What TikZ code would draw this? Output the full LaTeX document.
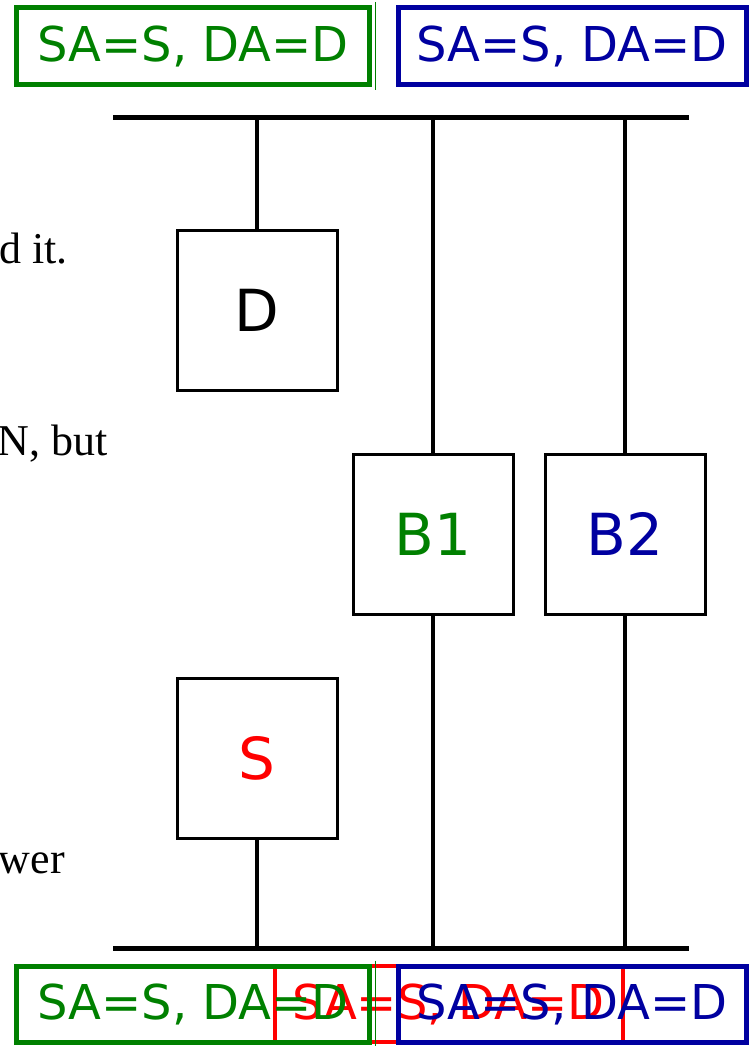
\documentclass[tikz,border=0pt]{standalone}
\usepackage{fontspec}
\setmainfont{Liberation Serif}
\newfontfamily\verdana{DejaVu Sans}
\definecolor{bgreen}{RGB}{0,128,0}
\definecolor{bblue}{RGB}{0,0,160}

\tikzset{
	bridge/.style={draw, line width=3pt, minimum size=160pt, inner sep=0pt, font=\verdana\fontsize{58}{62}\selectfont},
	hdr/.style={draw=#1, text=#1, line width=5pt, minimum height=77pt, inner sep=0pt, font=\verdana\fontsize{48}{54}\selectfont},
	cut/.style={anchor=base east, inner sep=0pt, font=\fontsize{44}{50}\selectfont},
	wire/.style={line width=4pt}
}

\begin{document}
\begin{tikzpicture}[x=1pt,y=-1pt]
	\useasboundingbox (0,0) rectangle (748,1046);

	% the two LAN segments
	\coordinate (tl) at (113,118);
	\coordinate (tr) at (689,118);
	\coordinate (bl) at (113,948);
	\coordinate (br) at (689,948);
	\draw[line width=5pt] (tl) -- (tr);
	\draw[line width=5pt] (bl) -- (br);

	% stations and bridges
	\node[bridge] (D) at (257,310) {D};
	\node[bridge, text=bgreen] (B1) at (433,534) {B1};
	\node[bridge, text=bblue] (B2) at (625,534) {B2};
	\node[bridge, text=red] (S) at (257,758) {S};

	\draw[wire] (D) -- (D |- tl);
	\draw[wire] (S) -- (S |- bl);
	\draw[wire] (B1) -- (B1 |- tl);
	\draw[wire] (B1) -- (B1 |- bl);
	\draw[wire] (B2) -- (B2 |- tl);
	\draw[wire] (B2) -- (B2 |- bl);

	% frames on the upper LAN
	\node[hdr=bgreen, minimum width=353pt] (gtop) at (193,46) {SA=S, DA=D};
	\draw[bgreen, line width=1pt] ([xshift=3.5pt,yshift=3pt]gtop.north east) -- ([xshift=3.5pt,yshift=-3pt]gtop.south east);
	\node[hdr=bblue, minimum width=348pt] (btop) at (572,46) {SA=S, DA=D};

	% frames on the lower LAN
	\node[hdr=red, line width=4pt, minimum width=348pt, minimum height=76pt] (rbot) at (448.5,1004) {SA=S, DA=D};
	\node[hdr=bgreen, minimum width=353pt, minimum height=76pt] (gbot) at (193,1004) {SA=S, DA=D};
	\draw[bgreen, line width=1pt] ([xshift=3.5pt,yshift=3pt]gbot.north east) -- ([xshift=3.5pt,yshift=-3pt]gbot.south east);
	\node[hdr=bblue, minimum width=348pt, minimum height=76pt] (bbot) at (572,1004) {SA=S, DA=D};

	% text from the slide beside it
	\node[cut] (t1) at (68,263) {d it.};
	\node[cut] (t2) at (108,455) {N, but};
	\node[cut] (t3) at (65,873) {wer};
\end{tikzpicture}
\end{document}
